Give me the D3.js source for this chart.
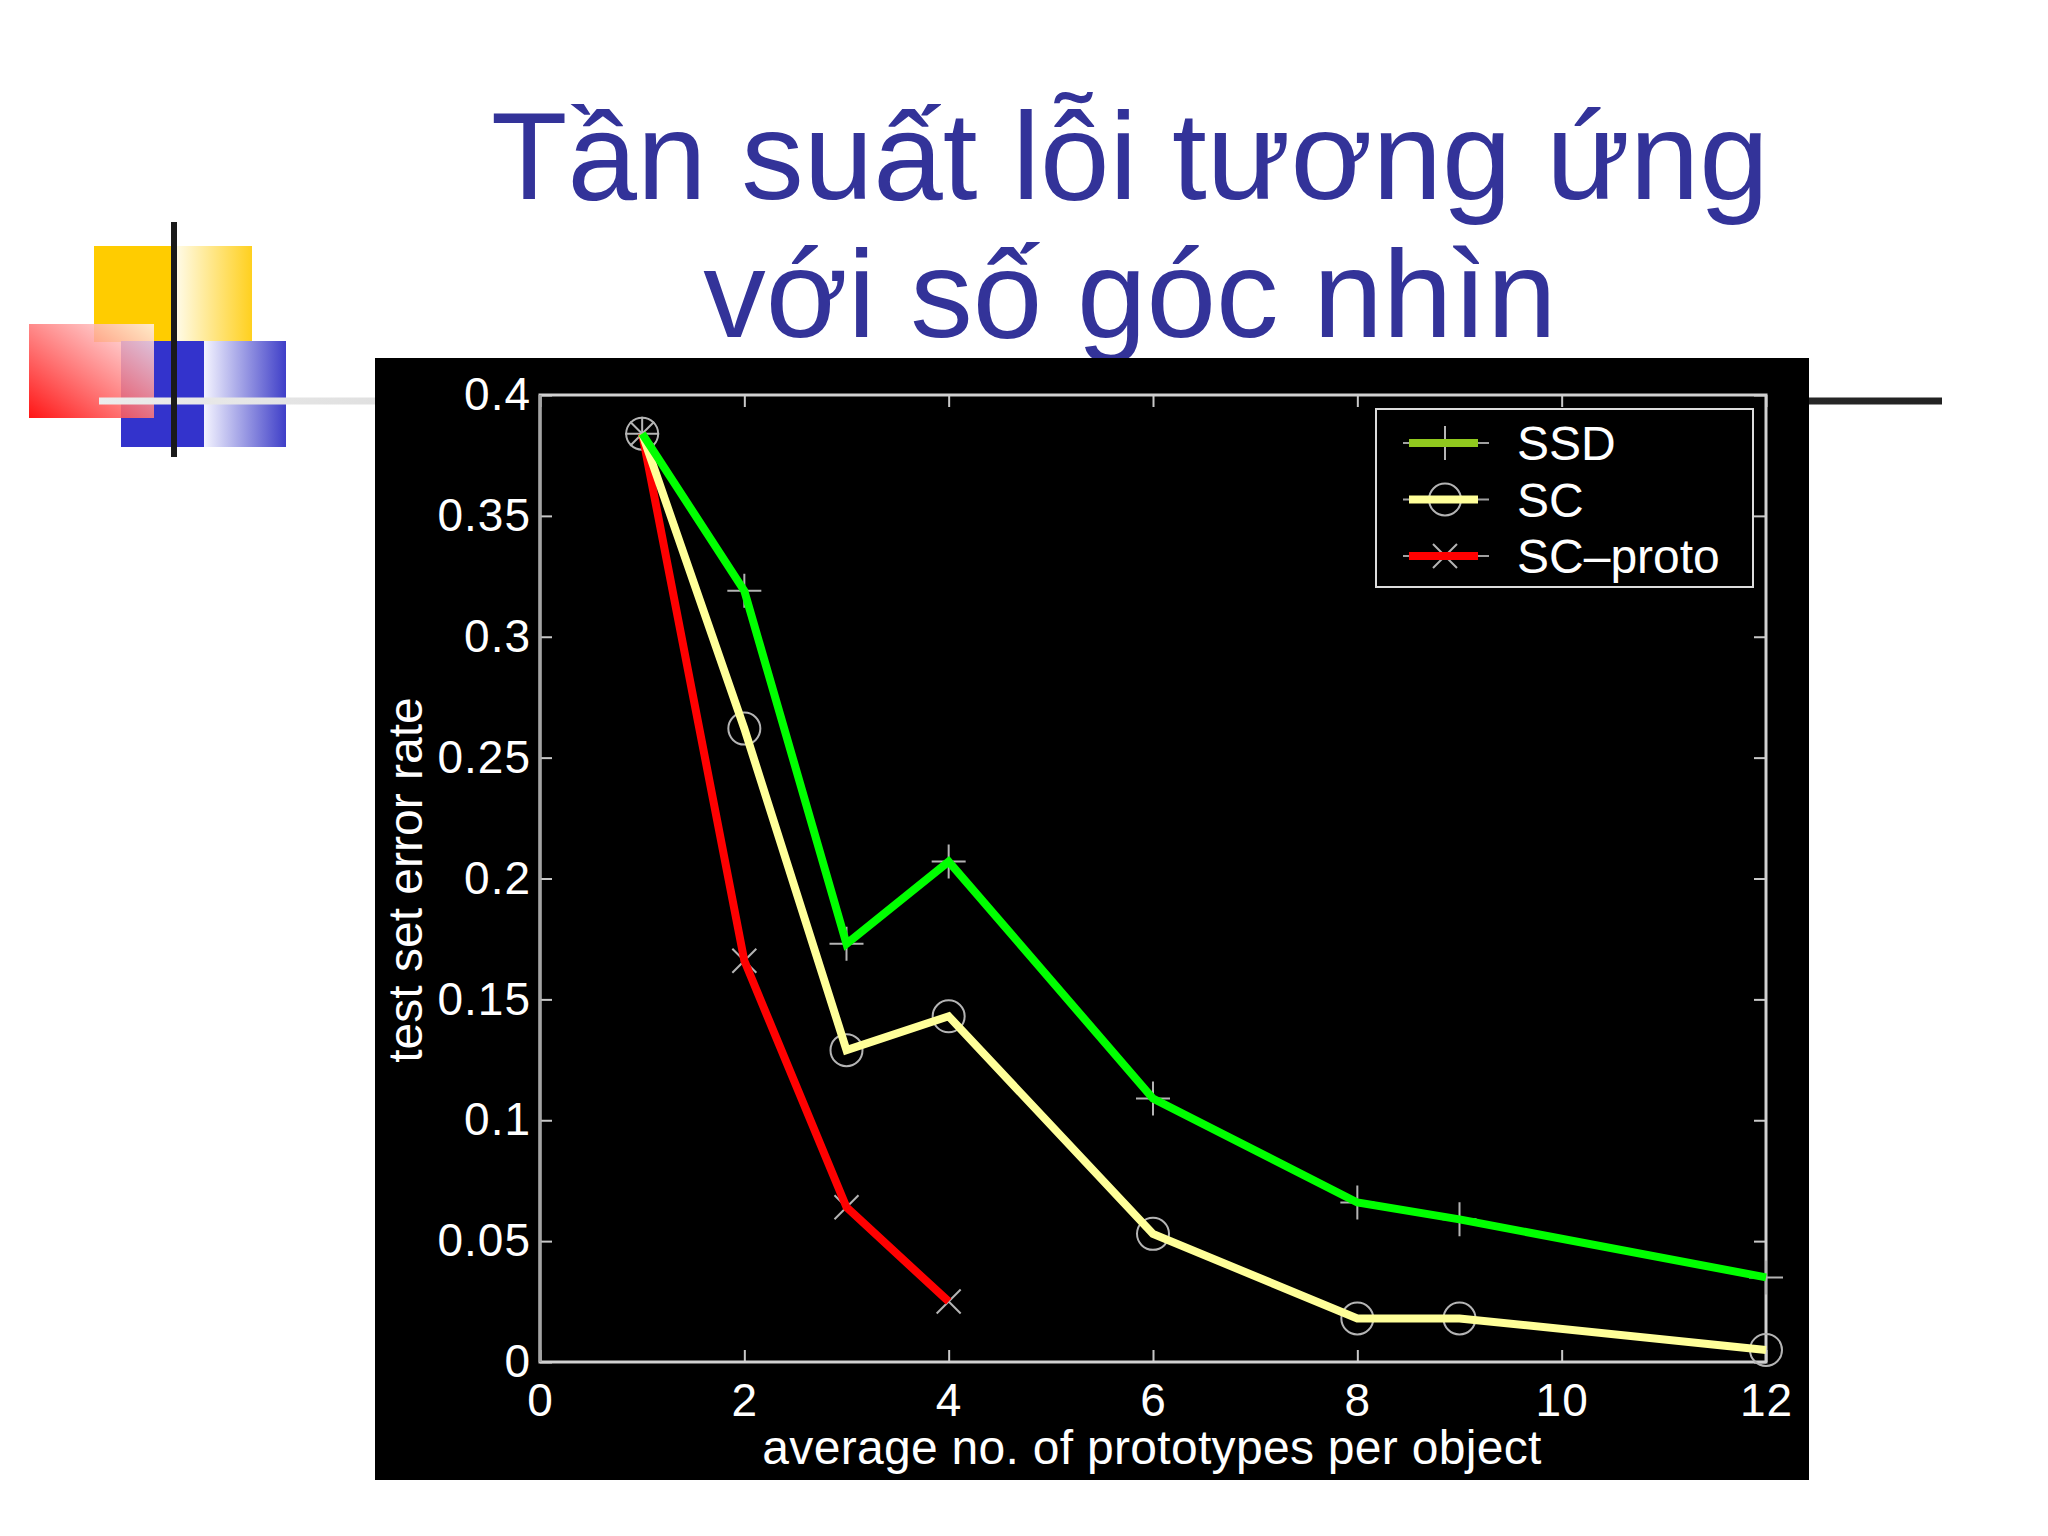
<!DOCTYPE html>
<html>

<head>
    <meta charset="utf-8">
    <script src="https://d3js.org/d3.v7.min.js"></script>
    <style>
        body {
            margin: 0;
            background: #ffffff;
        }

        svg text {
            font-family: "Liberation Sans", Arial, Helvetica, sans-serif;
        }

        .axis text {
            fill: #ffffff;
            font-size: 46px;
        }

        .axis line {
            stroke: #c8c8c8;
            stroke-width: 2;
        }
    </style>
</head>

<body>
    <div id="chart"></div>

    <script>
        var titleLines = ["Tần suất lỗi tương ứng", "với số góc nhìn"];

        var xValues = [1, 2, 3, 4, 6, 8, 9, 12];
        var ssdValues = [0.384, 0.319, 0.173, 0.207, 0.109, 0.066, 0.059, 0.035];
        var scValues = [0.384, 0.262, 0.129, 0.143, 0.053, 0.018, 0.018, 0.005];
        var protoX = [1, 2, 3, 4];
        var protoValues = [0.384, 0.166, 0.064, 0.025];

        var xTicks = [0, 2, 4, 6, 8, 10, 12];
        var xTickLabels = ["0", "2", "4", "6", "8", "10", "12"];
        var yTicks = [0, 0.05, 0.1, 0.15, 0.2, 0.25, 0.3, 0.35, 0.4];
        var yTickLabels = ["0", "0.05", "0.1", "0.15", "0.2", "0.25", "0.3", "0.35", "0.4"];

        var seriesNames = ["SSD", "SC", "SC–proto"];
        var seriesColors = ["#00ff00", "#ffff99", "#ff0000"];
        var legendColors = ["#90c81e", "#ffff99", "#ff0000"];
        var seriesMarkers = ["plus", "circle", "cross"];

        var width = 2048,
            height = 1536;

        var svg = d3.select("#chart")
            .append("svg")
            .attr("width", width)
            .attr("height", height);

        var defs = svg.append("defs");

        function makeGradient(id, stops, x1, y1, x2, y2, userSpace) {
            var g = defs.append("linearGradient")
                .attr("id", id)
                .attr("x1", x1).attr("y1", y1)
                .attr("x2", x2).attr("y2", y2);
            if (userSpace) g.attr("gradientUnits", "userSpaceOnUse");
            stops.forEach(function(s) {
                g.append("stop").attr("offset", s[0]).attr("stop-color", s[1]).attr("stop-opacity", s[2] == null ? 1 : s[2]);
            });
        }

        makeGradient("yellowFade", [["0%", "#fffbe8"], ["100%", "#ffd01e"]], "0%", "0%", "100%", "0%");
        makeGradient("blueFade", [["0%", "#f4f4ff"], ["100%", "#3f3fc8"]], "0%", "0%", "100%", "0%");
        makeGradient("redFade", [["0%", "#ff0000", 1], ["100%", "#fff2f2", 0.9]], "0%", "100%", "100%", "0%");
        // the rule is a flat line, so its gradient has to live in user space
        makeGradient("ruleFade", [["0%", "#ececec"], ["18%", "#dedede"], ["75%", "#333333"], ["100%", "#222222"]],
            99, 0, 1942, 0, true);

        // slide decoration
        var deco = svg.append("g");
        deco.append("rect").attr("x", 94).attr("y", 246).attr("width", 82).attr("height", 96).attr("fill", "#ffcc00");
        deco.append("rect").attr("x", 176).attr("y", 246).attr("width", 76).attr("height", 96).attr("fill", "url(#yellowFade)");
        deco.append("rect").attr("x", 121).attr("y", 341).attr("width", 83).attr("height", 106).attr("fill", "#3333cc");
        deco.append("rect").attr("x", 204).attr("y", 341).attr("width", 82).attr("height", 106).attr("fill", "url(#blueFade)");
        deco.append("rect").attr("x", 29).attr("y", 324).attr("width", 125).attr("height", 94).attr("fill", "url(#redFade)").attr("opacity", 0.92);
        deco.append("line").attr("x1", 99).attr("x2", 1942).attr("y1", 401).attr("y2", 401)
            .attr("stroke", "url(#ruleFade)").attr("stroke-width", 7);
        deco.append("line").attr("x1", 174).attr("x2", 174).attr("y1", 222).attr("y2", 457)
            .attr("stroke", "#1a1a1a").attr("stroke-width", 6);

        // title
        svg.selectAll(".title")
            .data(titleLines)
            .enter()
            .append("text")
            .attr("class", "title")
            .attr("x", 1130)
            .attr("y", function(d, i) { return 199 + i * 138; })
            .attr("text-anchor", "middle")
            .attr("fill", "#333399")
            .style("font-size", "125px")
            .text(function(d) { return d; });

        // chart image area
        svg.append("rect")
            .attr("x", 375).attr("y", 358)
            .attr("width", 1434).attr("height", 1122)
            .attr("fill", "#000000");

        var plot = { left: 540, top: 395, right: 1766, bottom: 1362 };

        var x = d3.scaleLinear().domain([0, 12]).range([plot.left, plot.right]);
        var y = d3.scaleLinear().domain([0, 0.4]).range([plot.bottom, plot.top]);

        var tick = 12;

        svg.append("g").attr("class", "axis")
            .attr("transform", "translate(0," + plot.bottom + ")")
            .call(d3.axisBottom(x).tickValues(xTicks).tickFormat(function(d, i) { return xTickLabels[i]; })
                .tickSize(-tick).tickSizeOuter(0).tickPadding(21));
        svg.append("g").attr("class", "axis")
            .attr("transform", "translate(0," + plot.top + ")")
            .call(d3.axisTop(x).tickValues(xTicks).tickFormat("").tickSize(-tick).tickSizeOuter(0));
        svg.append("g").attr("class", "axis")
            .attr("transform", "translate(" + plot.left + ",0)")
            .call(d3.axisLeft(y).tickValues(yTicks).tickFormat(function(d, i) { return yTickLabels[i]; })
                .tickSize(-tick).tickSizeOuter(0).tickPadding(9));
        svg.append("g").attr("class", "axis")
            .attr("transform", "translate(" + plot.right + ",0)")
            .call(d3.axisRight(y).tickValues(yTicks).tickFormat("").tickSize(-tick).tickSizeOuter(0));

        svg.selectAll(".axis .domain").remove();
        svg.selectAll(".axis text").attr("font-family", null).style("letter-spacing", "1px");

        // frame
        svg.append("rect")
            .attr("x", plot.left).attr("y", plot.top)
            .attr("width", plot.right - plot.left).attr("height", plot.bottom - plot.top)
            .attr("fill", "none").attr("stroke", "#d0d0d0").attr("stroke-width", 3);
        svg.append("line")
            .attr("x1", plot.left).attr("x2", plot.left).attr("y1", plot.top).attr("y2", plot.bottom)
            .attr("stroke", "#a4a4a4").attr("stroke-width", 3);

        // axis titles
        svg.append("text")
            .attr("transform", "translate(422,880) rotate(-90)")
            .attr("text-anchor", "middle")
            .attr("fill", "#ffffff")
            .style("font-size", "48px")
            .text("test set error rate");

        svg.append("text")
            .attr("x", 1152).attr("y", 1464)
            .attr("text-anchor", "middle")
            .attr("fill", "#ffffff")
            .style("font-size", "48px")
            .style("letter-spacing", "0.3px")
            .text("average no. of prototypes per object");

        function markerPath(type) {
            if (type == "plus") return "M-17,0H17M0,-17V17";
            if (type == "cross") return "M-12,-12L12,12M-12,12L12,-12";
            return d3.arc()({ innerRadius: 0, outerRadius: 16, startAngle: 0, endAngle: 2 * Math.PI });
        }

        var series = [
            { xs: xValues, ys: ssdValues },
            { xs: xValues, ys: scValues },
            { xs: protoX, ys: protoValues }
        ];

        var line = d3.line()
            .x(function(d) { return x(d[0]); })
            .y(function(d) { return y(d[1]); });

        var markerLayer = svg.append("g");
        var lineLayer = svg.append("g");

        // draw red first so green ends up on top
        [2, 1, 0].forEach(function(k) {
            var s = series[k];
            var pts = s.xs.map(function(v, i) { return [v, s.ys[i]]; });

            markerLayer.selectAll(".m" + k)
                .data(pts)
                .enter()
                .append("path")
                .attr("class", "m" + k)
                .attr("transform", function(d) { return "translate(" + x(d[0]) + "," + y(d[1]) + ")"; })
                .attr("d", markerPath(seriesMarkers[k]))
                .attr("fill", "none")
                .attr("stroke", "#b4b4b4")
                .attr("stroke-width", 2);

            lineLayer.append("path")
                .datum(pts)
                .attr("d", line)
                .attr("fill", "none")
                .attr("stroke", seriesColors[k])
                .attr("stroke-width", 8)
                .attr("stroke-linejoin", "miter");
        });

        // legend
        var legend = svg.append("g");
        legend.append("rect")
            .attr("x", 1376).attr("y", 409)
            .attr("width", 377).attr("height", 178)
            .attr("fill", "#000000").attr("stroke", "#dcdcdc").attr("stroke-width", 2);

        var entry = legend.selectAll(".entry")
            .data(seriesNames)
            .enter()
            .append("g")
            .attr("class", "entry")
            .attr("transform", function(d, i) { return "translate(0," + (443 + i * 56.5) + ")"; });

        entry.append("line")
            .attr("x1", 1403).attr("x2", 1489)
            .attr("stroke", "#a0a0a0").attr("stroke-width", 2);
        entry.append("path")
            .attr("transform", "translate(1445,0)")
            .attr("d", function(d, i) { return markerPath(seriesMarkers[i]); })
            .attr("fill", "none").attr("stroke", "#b4b4b4").attr("stroke-width", 2);
        entry.append("line")
            .attr("x1", 1409).attr("x2", 1478)
            .attr("stroke", function(d, i) { return legendColors[i]; })
            .attr("stroke-width", 8);
        entry.append("text")
            .attr("x", 1517)
            .attr("dy", "0.36em")
            .attr("fill", "#ffffff")
            .style("font-size", "48px")
            .text(function(d) { return d; });
    </script>

</body>

</html>
